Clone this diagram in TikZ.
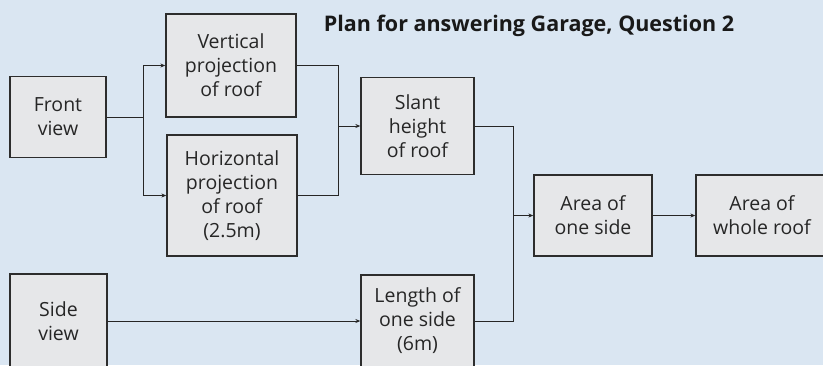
\documentclass[tikz,border=0pt]{standalone}
\usepackage{fontspec}
\setmainfont{Open Sans}
\usetikzlibrary{arrows.meta}
\definecolor{bgblue}{RGB}{218,230,242}
\definecolor{boxfill}{RGB}{230,231,233}
\definecolor{boxline}{RGB}{45,45,45}
\tikzset{
  box/.style={draw=boxline, line width=1.3pt, fill=boxfill, align=center, inner sep=0pt,
    font=\fontsize{19.5}{24}\selectfont, text=black!85},
  conn/.style={draw=black!85, line width=1pt},
  arr/.style={conn, -{Stealth[length=5pt,width=4pt]}}
}
\begin{document}
\begin{tikzpicture}[x=1pt,y=-1pt]
\useasboundingbox (0,0) rectangle (823,365);
\fill[bgblue] (0,0) rectangle (823,365);
\clip (0,0) rectangle (823,365);
\node[box, minimum width=96pt, minimum height=81pt] (front) at (58,117) {Front\\view};
\node[box, minimum width=130pt, minimum height=103pt] (vproj) at (231,65.5) {Vertical\\projection\\of roof};
\node[box, minimum width=130pt, minimum height=121pt] (hproj) at (232,195.5) {Horizontal\\projection\\of roof\\(2.5m)};
\node[box, minimum width=113pt, minimum height=97pt] (slant) at (417.5,126) {Slant\\height\\of roof};
\node[box, minimum width=118pt, minimum height=81pt] (area1) at (593,215.5) {Area of\\one side};
\node[box, minimum width=132pt, minimum height=81pt] (areaw) at (762,215.5) {Area of\\whole roof};
\node[box, minimum width=97pt, minimum height=94pt] (side) at (58.5,321) {Side\\view};
\node[box, minimum width=113pt, minimum height=92pt] (length) at (417.5,321) {Length of\\one side\\(6m)};
\node[font=\fontsize{21.5}{25}\selectfont\bfseries, text=black!90] (title) at (529,26) {Plan for answering Garage, Question 2};
% connectors
\draw[conn] (front.east) -- (143,117) coordinate (s1);
\draw[arr] (s1) |- (vproj.west);
\draw[arr] (s1) |- (hproj.west);
\draw[conn] (vproj.east) -| (338,126) coordinate (s2);
\draw[conn] (hproj.east) -| (s2);
\draw[arr] (s2) -- (slant.west);
\draw[conn] (slant.east) -| (513,215.5) coordinate (s3);
\draw[conn] (length.east) -| (s3);
\draw[arr] (s3) -- (area1.west);
\draw[arr] (area1.east) -- (areaw.west);
\draw[arr] (side.east) -- (length.west);
\end{tikzpicture}
\end{document}
